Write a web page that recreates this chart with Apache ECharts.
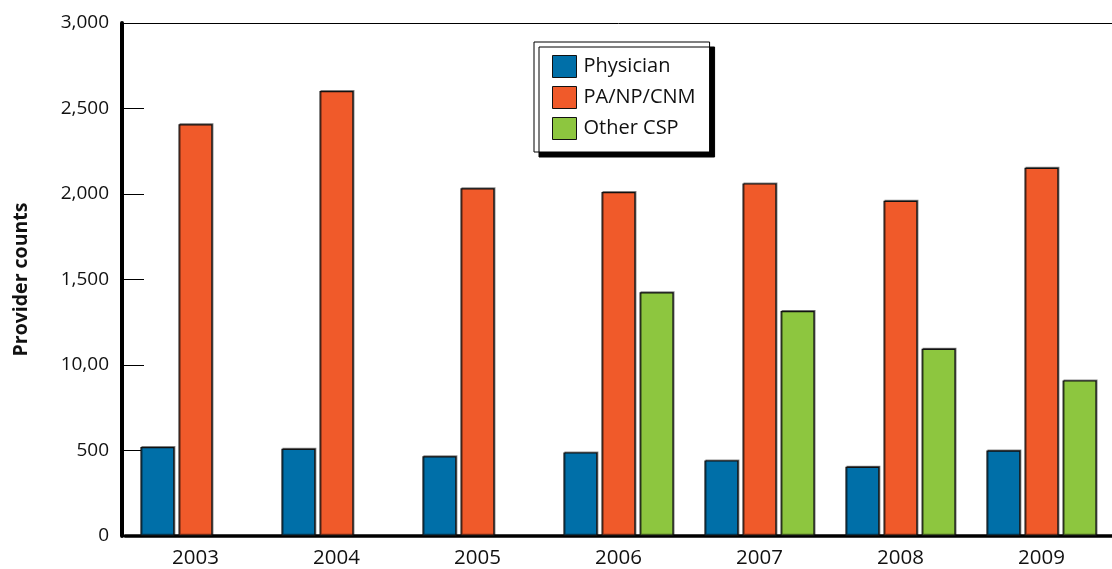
<!DOCTYPE html>
<html><head><meta charset="utf-8">
<script src="https://cdn.jsdelivr.net/npm/echarts@6/dist/echarts.min.js"></script>
<style>html,body{margin:0;padding:0;background:#fff}#c{width:1112px;height:569px}</style>
</head><body><div id="c"></div>
<script>
const categories = ["2003","2004","2005","2006","2007","2008","2009"];
const physician = [520, 510, 466, 489, 442, 405, 500];
const paNpCnm = [2408, 2602, 2033, 2011, 2062, 1960, 2153];
const otherCsp = [null, null, null, 1425, 1316, 1095, 910];
const yTickLabels = ["0","500","10,00","1,500","2,000","2,500","3,000"];
const seriesNames = ["Physician","PA/NP/CNM","Other CSP"];
const colors = ["#006fa8","#f05a2a","#8dc63f"];

const FONT = "Open Sans";
const chart = echarts.init(document.getElementById('c'), null, {renderer:'canvas'});
const barStyle = (c) => ({color:c, borderColor:'#111', borderWidth:1.2, shadowColor:'rgba(0,0,0,0.45)', shadowOffsetX:1, shadowOffsetY:-1, shadowBlur:0});
chart.setOption({
  animation:false,
  textStyle:{fontFamily:FONT},
  grid:{left:125, top:23, width:999, bottom:31, containLabel:false},
  legend:{
    orient:'vertical', left:534, top:42,
    padding:[13,14,12,18], itemGap:8, itemWidth:24, itemHeight:22,
    backgroundColor:'#fff', borderColor:'#000', borderWidth:1,
    shadowColor:'#000', shadowOffsetX:5, shadowOffsetY:5, shadowBlur:0,
    textStyle:{fontFamily:FONT, fontSize:20, color:'#111', padding:[0,0,0,2]},
    itemStyle:{borderColor:'#111', borderWidth:1},
    icon:'rect',
    data:seriesNames
  },
  xAxis:[{
    type:'category', data:categories,
    axisLine:{show:true, lineStyle:{color:'#000', width:3.5}},
    axisTick:{show:false},
    axisLabel:{fontFamily:FONT, fontSize:20.5, color:'#111', margin:12}
  },{
    type:'category', data:categories, position:'top',
    axisLine:{show:true, lineStyle:{color:'#000', width:1}},
    axisTick:{show:false}, axisLabel:{show:false}
  }],
  yAxis:{
    type:'value', min:0, max:3000, interval:500, offset:3,
    name:'Provider counts', nameLocation:'middle', nameGap:91,
    nameTextStyle:{fontFamily:FONT, fontSize:19.5, fontWeight:'bold', color:'#111'},
    axisLine:{show:true, lineStyle:{color:'#000', width:4}},
    axisTick:{show:true, inside:true, length:22, lineStyle:{color:'#000', width:1}},
    splitLine:{show:false},
    axisLabel:{fontFamily:FONT, fontSize:19, color:'#111', margin:13,
      formatter:(v)=>yTickLabels[Math.round(v/500)]}
  },
  series:[
    {name:seriesNames[0], type:'bar', data:physician, barWidth:34, barGap:'12%', itemStyle:barStyle(colors[0])},
    {name:seriesNames[1], type:'bar', data:paNpCnm, barWidth:34, barGap:'12%', itemStyle:barStyle(colors[1])},
    {name:seriesNames[2], type:'bar', data:otherCsp, barWidth:34, barGap:'12%', itemStyle:barStyle(colors[2])}
  ]
});
</script></body></html>
